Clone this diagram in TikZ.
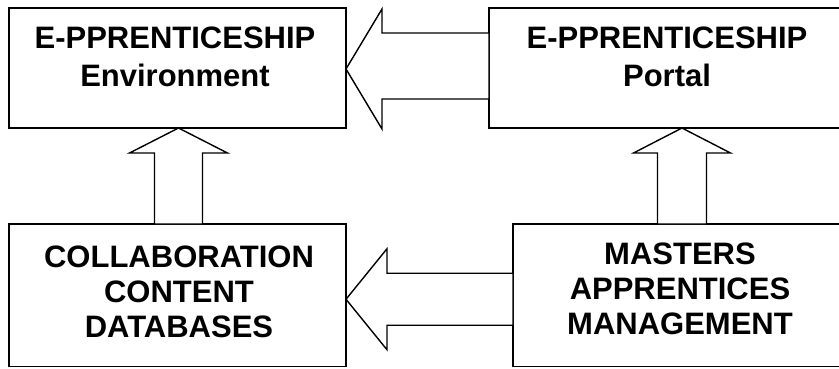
\documentclass[tikz,border=0pt]{standalone}
\usepackage{fontspec}
\setmainfont{Liberation Sans}
\usetikzlibrary{calc}
\begin{document}
\begin{tikzpicture}[x=1pt,y=-1pt,
  box/.style={draw=black, line width=1.4pt, inner sep=0pt, outer sep=0pt, anchor=north west},
  toptext/.style={inner sep=0pt, align=center, anchor=north, font=\fontsize{31}{38}\selectfont\bfseries},
  bottext/.style={inner sep=0pt, align=center, anchor=north, font=\fontsize{31}{35}\selectfont\bfseries},
  blockarrow/.style={draw=black, fill=white, line width=1.4pt, line join=miter}]
\useasboundingbox (0,0) rectangle (839,368);
\clip (0,0) rectangle (839,368);
% boxes
\node[box, minimum width=337pt, minimum height=120pt] (env) at (9,8) {};
\node[box, minimum width=356pt, minimum height=120pt] (portal) at (489,8) {};
\node[box, minimum width=337pt, minimum height=142.5pt] (collab) at (9,224) {};
\node[box, minimum width=335pt, minimum height=142.5pt] (masters) at (513,224) {};
% texts
\node[toptext] (envtext) at (175,26.3) {E-PPRENTICESHIP\\Environment};
\node[toptext] (portaltext) at (667,26.3) {E-PPRENTICESHIP\\Portal};
\node[bottext] (collabtext) at (179,245.3) {COLLABORATION\\CONTENT\\DATABASES};
\node[bottext] (masterstext) at (680,242.6) {MASTERS\\APPRENTICES\\MANAGEMENT};
% arrow portal -> env
\coordinate (t1) at ($(env.east)+(0,1)$);
\draw[blockarrow] (t1) -- ($(t1)+(36,-60)$) -- ($(t1)+(36,-36)$)
  -- ($(portal.west |- t1)+(0,-36)$) -- ($(portal.west |- t1)+(0,30)$)
  -- ($(t1)+(36,30)$) -- ($(t1)+(36,60)$) -- cycle;
% arrow collab -> env
\coordinate (t2) at ($(env.south)+(1,0)$);
\coordinate (s2l) at ($(t2)+(-24,0)$);
\coordinate (s2r) at ($(t2)+(24,0)$);
\draw[blockarrow] (t2) -- ($(t2)+(49,25)$) -- ($(t2)+(24,25)$)
  -- (s2r |- collab.north) -- (s2l |- collab.north)
  -- ($(t2)+(-24,25)$) -- ($(t2)+(-49,25)$) -- cycle;
% arrow masters -> portal
\coordinate (t3) at ($(masters.north |- portal.south)+(1.5,0)$);
\coordinate (s3l) at ($(t3)+(-24.5,0)$);
\coordinate (s3r) at ($(t3)+(24.5,0)$);
\draw[blockarrow] (t3) -- ($(t3)+(48.5,25)$) -- ($(t3)+(24.5,25)$)
  -- (s3r |- masters.north) -- (s3l |- masters.north)
  -- ($(t3)+(-24.5,25)$) -- ($(t3)+(-48.5,25)$) -- cycle;
% arrow masters -> collab
\coordinate (t4) at ($(collab.east)+(0,4)$);
\draw[blockarrow] (t4) -- ($(t4)+(41,-50.5)$) -- ($(t4)+(41,-26)$)
  -- ($(masters.west |- t4)+(0,-26)$) -- ($(masters.west |- t4)+(0,26)$)
  -- ($(t4)+(41,26)$) -- ($(t4)+(41,50.5)$) -- cycle;
\end{tikzpicture}
\end{document}
